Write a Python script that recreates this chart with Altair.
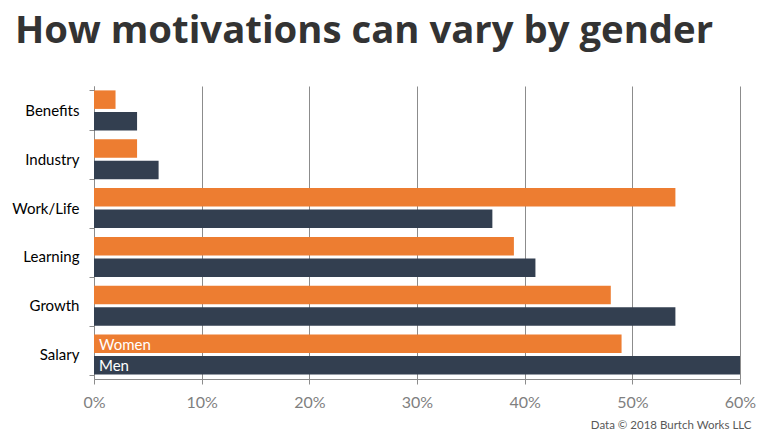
import altair as alt
import pandas as pd

categories = ["Benefits", "Industry", "Work/Life", "Learning", "Growth", "Salary"]
women = [0.02, 0.04, 0.54, 0.39, 0.48, 0.49]
men = [0.04, 0.06, 0.37, 0.41, 0.54, 0.60]
genders = ["Women", "Men"]
colors = ["#ED7D31", "#333F50"]
x_ticks = [0, 0.1, 0.2, 0.3, 0.4, 0.5, 0.6]

rows = []
for c, w, m in zip(categories, women, men):
    rows.append({"category": c, "gender": "Women", "value": w})
    rows.append({"category": c, "gender": "Men", "value": m})
df = pd.DataFrame(rows)

y_enc = alt.Y(
    "category:N",
    sort=categories,
    scale=alt.Scale(paddingInner=0.18, paddingOuter=0.09),
    axis=alt.Axis(
        title=None,
        tickBand="extent",
        tickSize=5,
        tickColor="#8c8c8c",
        domainColor="#8c8c8c",
        labelFont="Lato",
        labelFontSize=15,
        labelColor="#000000",
        labelPadding=10,
        grid=False,
    ),
)
yoff_enc = alt.YOffset("gender:N", sort=genders, scale=alt.Scale(paddingInner=0.14))

bars = alt.Chart(df).mark_bar().encode(
    x=alt.X(
        "value:Q",
        scale=alt.Scale(domain=[0, 0.6], nice=False),
        axis=alt.Axis(
            values=x_ticks,
            format=".0%",
            title="Data © 2018 Burtch Works LLC",
            titleFont="Lato",
            titleFontSize=11.5,
            titleFontWeight="normal",
            titleColor="#595959",
            titleAnchor="end",
            titleAlign="right",
            titleBaseline="alphabetic",
            titleX=657,
            titleY=49,
            labelFont="Lato",
            labelFontSize=16,
            labelColor="#7f7f7f",
            labelPadding=10,
            labelFlush=False,
            tickSize=5,
            tickColor="#8c8c8c",
            domainColor="#8c8c8c",
            grid=True,
            gridColor="#8c8c8c",
            gridWidth=1,
        ),
    ),
    y=y_enc,
    yOffset=yoff_enc,
    color=alt.Color("gender:N", sort=genders, scale=alt.Scale(domain=genders, range=colors), legend=None),
)

labels = alt.Chart(df).transform_filter(
    alt.datum.category == "Salary"
).mark_text(align="left", baseline="middle", dx=5, dy=1, color="white", font="Lato", fontSize=15).encode(
    x=alt.datum(0),
    y=y_enc,
    yOffset=yoff_enc,
    text="gender:N",
)

chart = alt.layer(bars, labels).properties(
    width=646,
    height=293,
    autosize=alt.AutoSizeParams(type="none"),
    padding={"left": 86, "top": 78, "right": 18, "bottom": 51},
    title=alt.TitleParams(
        "How motivations can vary by gender",
        anchor="start",
        frame="group",
        font="Open Sans",
        fontSize=38.3,
        fontWeight="bold",
        color="#333333",
        offset=0,
        dx=-79,
        dy=-28,
    ),
).configure_view(stroke=None)

chart.save("out.html", embed_options={"renderer": "svg", "actions": False})
